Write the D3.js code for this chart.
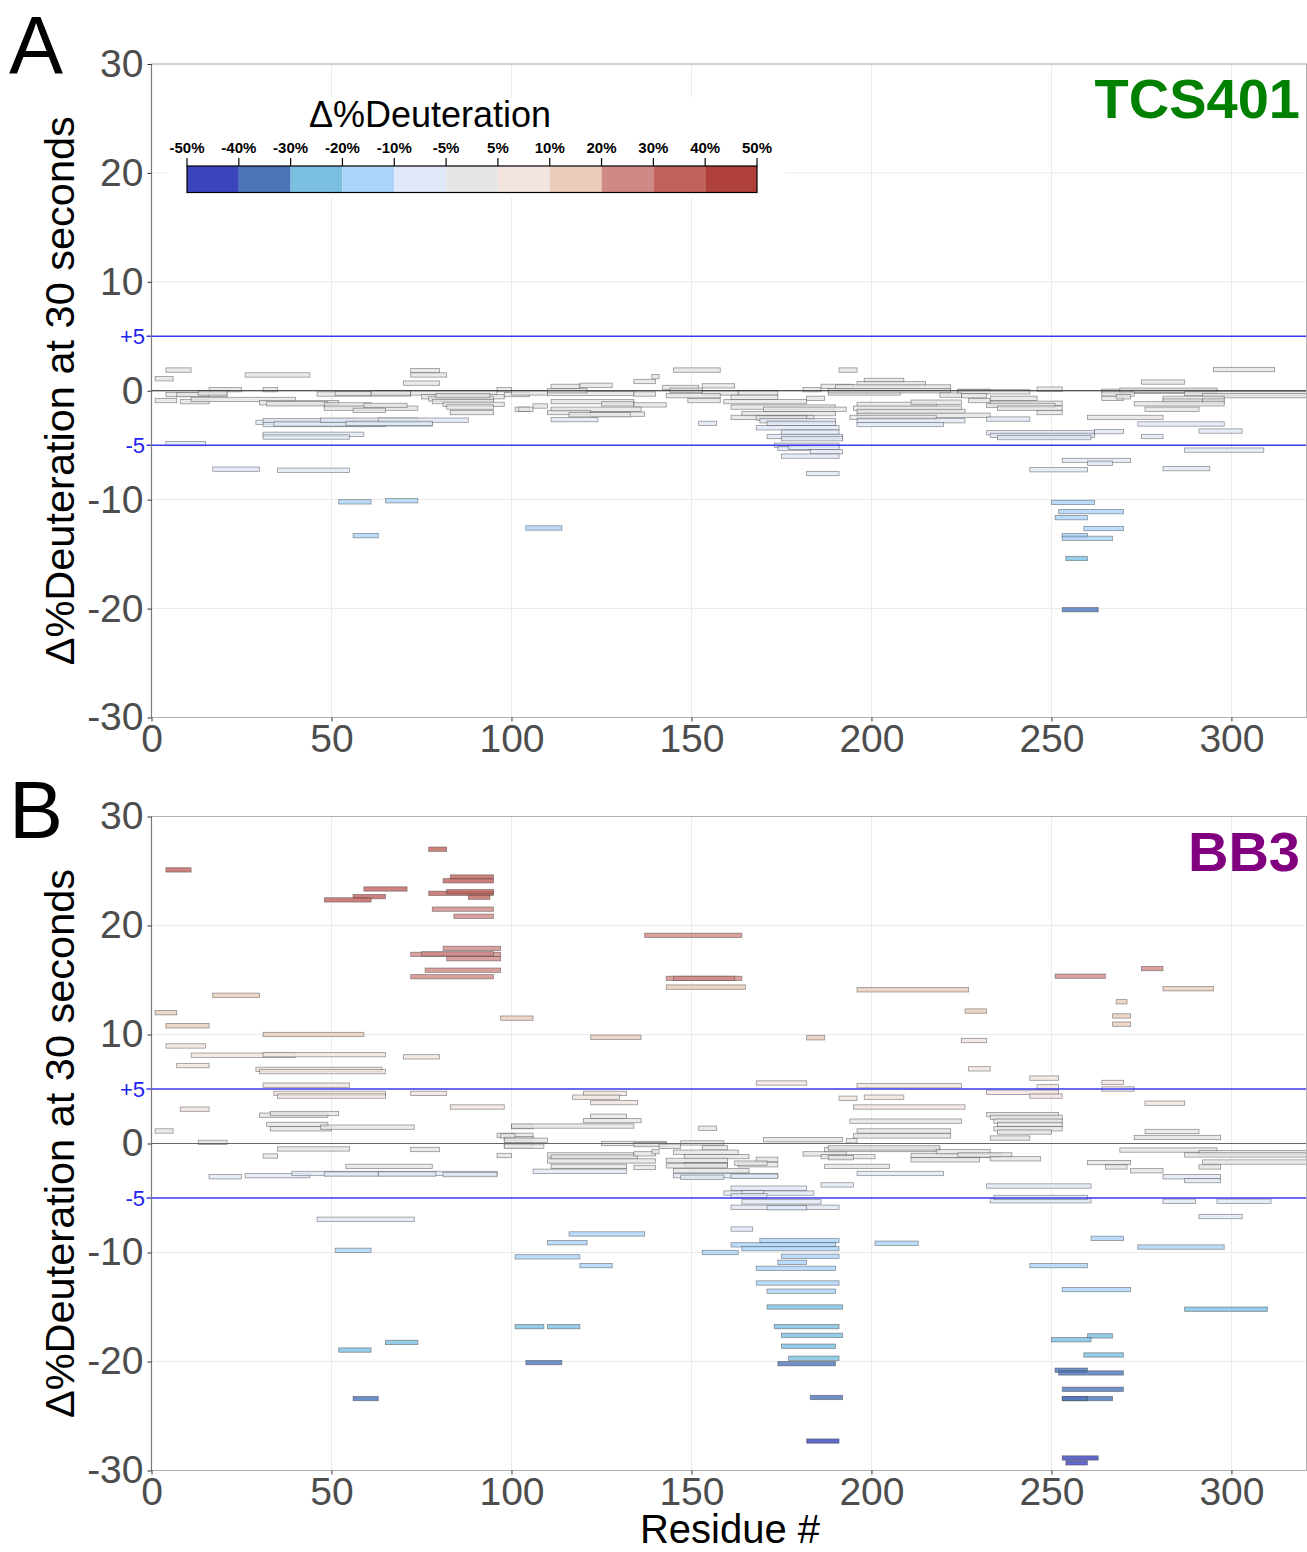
<!DOCTYPE html>
<html>
<head>
<meta charset="utf-8">
<script src="https://cdn.jsdelivr.net/npm/d3@7"></script>
<style>
  body { margin: 0; background: white; }
  svg { display: block; font-family: "Liberation Sans", Arial, sans-serif; }
</style>
</head>
<body>
<svg id="chart"></svg>
<script>
// peptides: [first residue, last residue, delta % deuteration]
var tcs401 = [
  [4,11,1.9],[1,6,1.1],[26,44,1.45],[72,80,1.85],[72,82,1.45],[70,80,0.7],[16,25,0.1],[31,35,0.1],
  [4,21,-0.35],[7,16,-0.35],[13,21,-0.2],[1,7,-0.9],[8,16,-1.0],[11,40,-0.8],[30,52,-1.1],[32,49,-1.2],
  [46,72,-0.3],[51,61,-0.25],[61,72,-0.2],[48,61,-1.3],[48,74,-1.6],[59,71,-1.35],[56,65,-1.8],
  [72,96,-0.2],[75,98,-0.55],[77,95,-0.75],[79,94,-0.45],[78,95,-1.0],[81,98,-1.25],[82,95,-1.5],[83,95,-2.0],
  [96,100,0.1],[98,105,-0.35],[101,105,-1.7],[29,65,-2.9],[31,56,-2.75],[31,65,-3.1],[34,78,-3.05],
  [47,74,-2.7],[63,88,-2.7],[54,78,-3.0],[31,59,-4.0],[31,55,-4.25],[4,15,-4.85],[17,30,-7.2],[35,55,-7.3],
  [52,61,-10.2],[65,74,-10.1],[56,63,-13.3],[104,114,-12.6],
  [145,158,1.9],[191,196,1.9],[134,140,0.85],[139,141,1.3],[111,119,0.4],[119,128,0.5],[100,110,-0.2],
  [110,134,-0.25],[134,140,-0.3],[110,121,0],[102,106,-1.7],[106,110,-1.4],[111,134,-1.0],[125,134,-1.2],
  [134,143,-1.3],[111,136,-1.7],[110,122,-2.0],[122,137,-2.15],[116,133,-2.2],[111,124,-2.65],
  [142,152,0.3],[144,153,0.05],[153,162,0.45],[153,163,-0.2],[143,158,-0.45],[149,158,-0.9],[159,182,-1.0],
  [163,174,-0.2],[161,174,-0.6],[181,186,0.1],[182,187,-0.7],[186,195,0.4],[188,208,-0.2],
  [198,209,0.95],[196,215,0.65],[190,222,0.35],[188,222,0],
  [161,190,-1.5],[170,193,-1.7],[164,190,-2.1],[161,184,-2.45],[168,182,-2.5],[169,190,-2.75],[171,190,-3.0],
  [168,191,-3.4],[175,191,-3.8],[171,192,-4.2],[175,192,-4.4],[173,191,-5.0],[174,183,-5.3],[177,191,-5.2],
  [183,192,-5.6],[175,191,-6.0],[182,191,-7.6],
  [196,218,-1.25],[195,225,-1.6],[196,226,-1.9],[196,233,-2.25],[194,218,-2.45],[196,226,-2.75],[196,220,-3.1],
  [211,225,-1.05],[152,157,-3.0],
  [295,312,1.95],[275,287,0.8],[224,233,-0.05],[224,244,-0.1],[246,253,0.15],[219,225,-0.4],[225,232,-0.45],
  [227,233,-0.9],[233,246,-0.7],[233,253,-1.15],[232,251,-1.35],[235,253,-1.6],[246,253,-2.0],[232,244,-2.6],
  [264,296,-0.05],[269,296,0.05],[264,273,-0.3],[264,270,-0.7],[268,272,-0.55],[287,321,-0.25],[292,321,-0.45],
  [281,298,-0.7],[281,292,-0.95],[292,298,-0.95],[273,298,-1.2],[276,291,-1.7],[260,281,-2.45],[274,298,-3.05],
  [291,303,-3.7],[275,281,-4.2],[232,262,-3.85],[233,262,-4.1],[235,261,-4.3],[262,270,-3.75],[287,309,-5.45],
  [253,272,-6.4],[260,267,-6.65],[244,260,-7.25],[281,294,-7.15],[250,262,-10.25],[252,270,-11.1],
  [251,260,-11.65],[259,270,-12.65],[253,260,-13.3],[253,267,-13.55],[254,260,-15.4],[253,263,-20.1]
];

var bb3 = [
  [77,82,27.0],[4,11,25.1],[83,95,24.45],[81,95,24.1],[59,71,23.35],[56,65,22.65],[48,61,22.35],[77,95,22.95],
  [82,95,23.1],[88,94,22.6],[78,95,21.5],[84,95,20.85],[81,97,17.9],[72,97,17.35],[75,95,17.4],[82,97,16.95],
  [76,97,15.9],[72,95,15.3],[17,30,13.6],[1,7,12.0],[4,16,10.8],[97,106,11.5],[31,59,10.0],[4,15,8.95],
  [11,40,8.1],[31,65,8.15],[70,80,7.95],[7,16,7.15],[29,64,6.8],[30,65,6.6],[31,55,5.35],[34,65,4.6],
  [35,65,4.35],[72,82,4.6],[8,16,3.15],[83,98,3.35],[30,49,2.6],[33,52,2.75],[32,49,1.75],[33,50,1.35],
  [47,73,1.5],[1,6,1.15],[100,106,1.55],[13,21,0.1],[35,55,-0.5],[72,80,-0.55],[31,35,-1.15],[96,100,-1.1],
  [96,106,0.75],[98,106,0.45],[98,106,-0.15],[54,78,-2.1],[16,25,-3.05],[26,44,-2.95],[39,96,-2.75],
  [48,63,-2.8],[63,79,-2.8],[81,96,-2.85],
  [137,164,19.1],[143,164,15.15],[145,162,15.15],[143,165,14.35],[196,227,14.1],[122,136,9.75],[182,187,9.7],
  [168,182,5.55],[196,225,5.3],[120,132,4.6],[117,130,4.25],[122,135,3.75],[122,132,2.5],[120,136,2.1],
  [100,134,1.6],[152,157,1.4],[191,196,4.15],[198,209,4.25],[195,226,3.35],[194,225,2.05],[196,222,1.15],
  [195,222,0.7],[97,101,0.7],[98,110,0.3],[98,109,-0.25],[125,143,0.0],[134,143,-0.1],[147,159,0.05],
  [141,147,-0.25],[153,160,-0.4],[170,192,0.35],[193,196,0.25],[110,134,-1.05],[111,135,-1.25],[134,140,-0.95],
  [139,141,-0.75],[110,140,-1.6],[111,132,-2.1],[106,132,-2.55],[134,140,-2.2],[145,163,-0.8],[148,166,-1.2],
  [143,160,-1.55],[148,160,-1.95],[143,160,-2.05],[145,166,-2.5],[145,174,-2.95],[147,159,-3.1],[161,174,-3.0],
  [163,174,-1.95],[168,174,-1.45],[162,171,-1.8],[181,193,-0.95],[186,201,-1.2],[187,219,-0.55],[188,219,-0.4],
  [188,195,-1.3],[211,236,-1.1],[211,230,-1.5],[187,205,-2.1],[196,220,-2.75],[186,195,-3.8],[161,182,-4.1],
  [159,184,-4.55],[164,170,-4.5],[161,171,-4.8],[164,186,-5.35],[161,191,-5.85],[171,182,-5.9],
  [275,281,16.05],[251,265,15.35],[281,295,14.2],[268,271,13.0],[226,232,12.15],[267,272,11.7],[267,272,10.95],
  [225,232,9.45],[227,233,6.85],[244,252,6.0],[246,252,5.2],[264,270,5.6],[264,273,5.0],[232,252,4.7],
  [244,253,4.35],[276,287,3.7],[232,252,2.65],[233,253,2.4],[234,253,2.05],[235,253,1.75],[234,253,1.35],
  [235,250,1.05],[233,244,0.5],[276,291,1.1],[273,297,0.55],[269,296,-0.6],[291,321,-0.85],[287,321,-1.05],
  [292,321,-1.7],[260,272,-1.75],[265,271,-2.15],[291,297,-2.15],[272,281,-2.5],[281,297,-3.05],[287,297,-3.4],
  [218,233,-0.75],[224,239,-1.05],[233,247,-1.4],[232,261,-3.9],[233,261,-5.25],[234,260,-4.95],[281,290,-5.3],
  [296,311,-5.3],[291,303,-6.7],
  [46,73,-6.95],[51,61,-9.8],[65,74,-18.25],[52,61,-18.95],[56,63,-23.4],
  [116,137,-8.3],[110,121,-9.1],[161,167,-7.85],[169,191,-8.9],[161,190,-9.3],[164,191,-9.65],[153,163,-10.0],
  [201,213,-9.15],[175,191,-10.35],[174,182,-10.9],[168,190,-11.45],[101,119,-10.4],[119,128,-11.2],
  [168,191,-12.8],[171,190,-13.55],[171,192,-15.0],[101,109,-16.8],[110,119,-16.8],[173,191,-16.8],
  [175,192,-17.6],[175,190,-18.6],[177,191,-19.7],[174,190,-20.2],[104,114,-20.1],[183,192,-23.3],[182,191,-27.3],
  [261,270,-8.7],[274,298,-9.5],[244,260,-11.2],[253,272,-13.4],[287,310,-15.2],[260,267,-17.65],[250,261,-18.0],
  [259,270,-19.4],[251,260,-20.8],[252,270,-21.05],[253,270,-22.55],[253,267,-23.4],[253,260,-23.4],
  [253,263,-28.85],[254,260,-29.3]
];

var legendLabels = ['-50%','-40%','-30%','-20%','-10%','-5%','5%','10%','20%','30%','40%','50%'];
var legendColors = ['#3a44bd','#4b74b9','#7bbfe1','#aad4fa','#e0e8f8','#e5e5e5',
                    '#f3e4e0','#e9cdb9','#cf8a86','#c0635d','#b0403a'];
var colorBreaks = [-25, -20, -14.5, -8, -2.5, 3, 9.5, 15, 22, 28];
var xTicks = [0, 50, 100, 150, 200, 250, 300];
var yTicks = [-30, -20, -10, 0, 10, 20, 30];

var width = 1307, height = 1552;
var svg = d3.select('#chart').attr('width', width).attr('height', height);

var color = d3.scaleThreshold().domain(colorBreaks).range(legendColors);

var x = d3.scaleLinear().domain([0, 321]).range([151.5, 1307]);

var panels = [
    {letter: 'A', letterY: 73, name: 'TCS401', nameColor: '#008000', data: tcs401, top: 64, bottom: 717.5, zero: '#222'},
    {letter: 'B', letterY: 838, name: 'BB3', nameColor: '#800080', data: bb3, top: 816.5, bottom: 1470.5, zero: '#666'}
];

panels.forEach(function(p) {
    var y = d3.scaleLinear().domain([-30, 30]).range([p.bottom, p.top]);
    var g = svg.append('g');

    // grid
    g.append('g').selectAll('line').data(xTicks).enter().append('line')
        .attr('x1', d => x(d)).attr('x2', d => x(d))
        .attr('y1', p.top).attr('y2', p.bottom)
        .attr('stroke', '#ebebeb').attr('stroke-width', 1);
    g.append('g').selectAll('line').data(yTicks).enter().append('line')
        .attr('x1', x(0)).attr('x2', width)
        .attr('y1', d => y(d)).attr('y2', d => y(d))
        .attr('stroke', '#ebebeb').attr('stroke-width', 1);

    // peptide bars
    g.append('g').selectAll('rect').data(p.data).enter().append('rect')
        .attr('x', d => x(d[0]))
        .attr('width', d => x(d[1]) - x(d[0]))
        .attr('y', d => y(d[2] + 0.2))
        .attr('height', d => y(d[2] - 0.2) - y(d[2] + 0.2))
        .attr('fill', d => color(d[2]))
        .attr('fill-opacity', 0.8)
        .attr('stroke', '#444')
        .attr('stroke-opacity', 0.55)
        .attr('stroke-width', 0.8);

    // reference lines
    g.append('line').attr('x1', x(0)).attr('x2', width)
        .attr('y1', y(0)).attr('y2', y(0))
        .attr('stroke', p.zero).attr('stroke-width', 1);
    [5, -5].forEach(function(v) {
        g.append('line').attr('x1', x(0) - 5).attr('x2', width)
            .attr('y1', y(v)).attr('y2', y(v))
            .attr('stroke', '#3838f5').attr('stroke-width', 1.6);
        g.append('text').attr('x', 145).attr('y', y(v)).attr('dy', '0.35em')
            .attr('text-anchor', 'end').attr('font-size', 22).attr('fill', '#2323f0')
            .text(v > 0 ? '+5' : '-5');
    });

    // panel border
    g.append('rect').attr('x', x(0)).attr('y', p.top)
        .attr('width', width - 0.5 - x(0)).attr('height', p.bottom - p.top)
        .attr('fill', 'none').attr('stroke', '#b0b0b0').attr('stroke-width', 1);
    g.append('line').attr('x1', x(0)).attr('x2', x(0)).attr('y1', p.top).attr('y2', p.bottom)
        .attr('stroke', '#7a7a7a').attr('stroke-width', 1.2);

    // axes
    var ya = g.append('g').attr('transform', 'translate(' + x(0) + ',0)')
        .call(d3.axisLeft(y).tickValues(yTicks).tickSize(4).tickPadding(4).tickFormat(d => String(d)));
    var xa = g.append('g').attr('transform', 'translate(0,' + p.bottom + ')')
        .call(d3.axisBottom(x).tickValues(xTicks).tickSize(4).tickPadding(3).tickFormat(d => String(d)));
    [ya, xa].forEach(function(a) {
        a.select('.domain').remove();
        a.selectAll('.tick line').attr('stroke', '#333');
        a.selectAll('.tick text').attr('fill', '#4d4d4d').attr('font-size', 39)
            .attr('font-family', '"Liberation Sans", Arial, sans-serif');
    });

    // titles
    g.append('text')
        .attr('transform', 'translate(74,' + ((p.top + p.bottom) / 2) + ') rotate(-90)')
        .attr('text-anchor', 'middle').attr('font-size', 41.5).attr('fill', '#000')
        .text('\u0394%Deuteration at 30 seconds');
    g.append('text').attr('x', 9).attr('y', p.letterY)
        .attr('font-size', 81).attr('fill', '#000').text(p.letter);
    g.append('text').attr('x', 1300).attr('y', p.top + 54)
        .attr('text-anchor', 'end').attr('font-size', 56).attr('font-weight', 'bold')
        .attr('fill', p.nameColor).text(p.name);
});

svg.append('text').attr('x', 730).attr('y', 1543)
    .attr('text-anchor', 'middle').attr('font-size', 40).attr('fill', '#000')
    .text('Residue #');

// colour legend
var leg = svg.append('g');
leg.append('rect').attr('x', 167).attr('y', 97).attr('width', 618).attr('height', 100)
    .attr('fill', 'white');
leg.append('text').attr('x', 430).attr('y', 127).attr('text-anchor', 'middle')
    .attr('font-size', 36).attr('fill', '#000').text('\u0394%Deuteration');

var lx = d3.scaleLinear().domain([0, legendColors.length]).range([187, 757]);
leg.selectAll('rect.seg').data(legendColors).enter().append('rect')
    .attr('class', 'seg')
    .attr('x', (d, i) => lx(i)).attr('width', (d, i) => lx(i + 1) - lx(i))
    .attr('y', 166).attr('height', 26.5)
    .attr('fill', d => d);
leg.append('rect').attr('x', lx(0)).attr('y', 166)
    .attr('width', lx(legendColors.length) - lx(0)).attr('height', 26.5)
    .attr('fill', 'none').attr('stroke', '#000').attr('stroke-width', 1.2);
leg.selectAll('line.tk').data(legendLabels).enter().append('line')
    .attr('class', 'tk')
    .attr('x1', (d, i) => lx(i)).attr('x2', (d, i) => lx(i))
    .attr('y1', 158).attr('y2', 166).attr('stroke', '#000').attr('stroke-width', 1.2);
leg.selectAll('text.lb').data(legendLabels).enter().append('text')
    .attr('class', 'lb')
    .attr('x', (d, i) => lx(i)).attr('y', 153)
    .attr('text-anchor', 'middle').attr('font-size', 15).attr('font-weight', 'bold')
    .attr('fill', '#000').text(d => d);
</script>
</body>
</html>
